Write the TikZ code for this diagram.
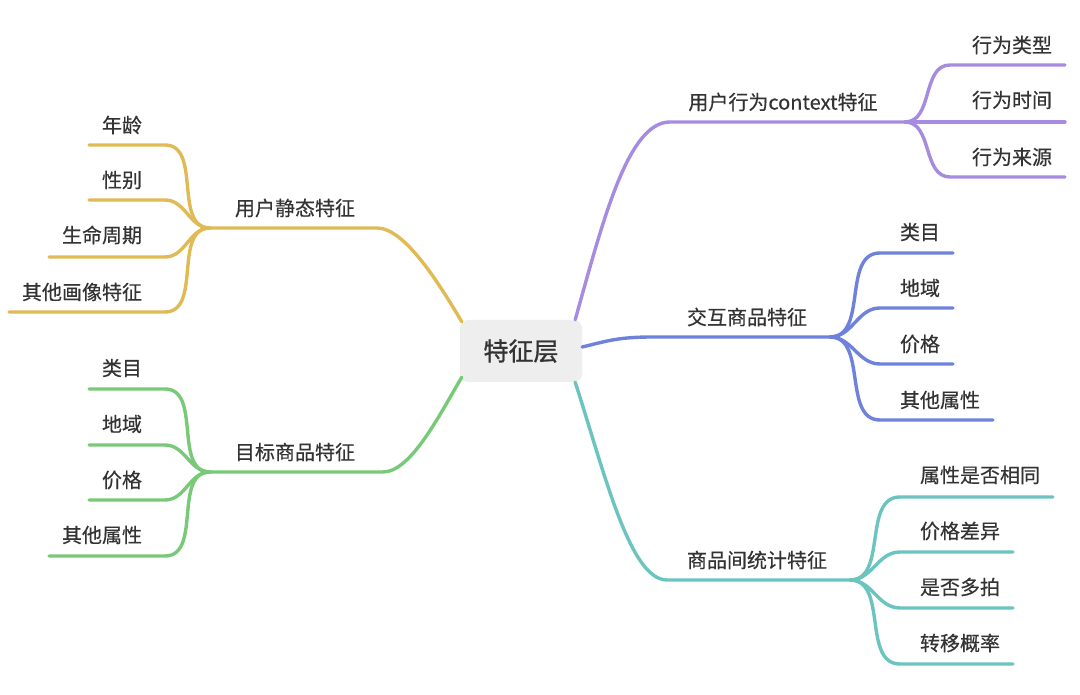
\documentclass[tikz,border=0pt]{standalone}
\usepackage{fontspec}
\setmainfont{Noto Sans CJK SC}[FakeBold=0.4]
\newfontfamily\hubfont{Noto Sans CJK SC}[FakeBold=1.2]
\usepackage{xcolor}
\usepackage{tikz}
\usetikzlibrary{positioning}
\definecolor{ink}{HTML}{333333}
\definecolor{hub}{HTML}{EEEEEE}
\definecolor{actc}{HTML}{A68BE0}
\definecolor{interc}{HTML}{6E82DC}
\definecolor{statc}{HTML}{6CC4C0}
\definecolor{userc}{HTML}{E0BB55}
\definecolor{itemc}{HTML}{78CA78}

\begin{document}
\begin{tikzpicture}[
  x=1pt, y=1pt,
  every node/.style={font=\fontsize{20}{24}\selectfont, text=ink, inner sep=0pt},
  root/.style={
    rectangle, rounded corners=8pt, fill=hub, minimum width=122pt,
    minimum height=62pt, font=\hubfont\fontsize{25}{30}\selectfont
  },
  branch/.style={line width=3.4pt, line cap=round},
]
\fill[white] (0,0) rectangle (1080,695);
\node[root] (root) at (521,344) {特征层};

% user behaviour context
\coordinate (actH) at (670,573);
\coordinate (actF) at (905,573);
\coordinate (actTypeA) at (950,630); \coordinate (actTypeB) at (1065,630);
\coordinate (actTimeB) at (1065,573);
\coordinate (actSrcA) at (950,518);  \coordinate (actSrcB) at (1065,518);
\node (act)     at (783,593)  {用户行为context特征};
\node (actType) at (1012,650) {行为类型};
\node (actTime) at (1012,595) {行为时间};
\node (actSrc)  at (1012,538) {行为来源};
\draw[branch, actc] ([xshift=-7pt]root.north east) .. controls +(28,100) and +(-42,0) .. (actH) -- (actF);
\draw[branch, actc] (actF) to[out=0,in=180] (actTypeA) -- (actTypeB);
\draw[branch, actc] (actF) -- (actTimeB);
\draw[branch, actc] (actF) to[out=0,in=180] (actSrcA) -- (actSrcB);

% interacted item
\coordinate (interH) at (653,358);
\coordinate (interF) at (830,358);
\coordinate (interCatA) at (880,442); \coordinate (interCatB) at (953,442);
\coordinate (interRegA) at (880,387); \coordinate (interRegB) at (953,387);
\coordinate (interPriA) at (880,331); \coordinate (interPriB) at (953,331);
\coordinate (interOthA) at (880,275); \coordinate (interOthB) at (993,275);
\node (inter)    at (747,378) {交互商品特征};
\node (interCat) at (920,463) {类目};
\node (interReg) at (920,407) {地域};
\node (interPri) at (920,351) {价格};
\node (interOth) at (940,295) {其他属性};
\draw[branch, interc] ([yshift=4pt]root.east) .. controls +(25,6) and +(-35,0) .. (interH) -- (interF);
\draw[branch, interc] (interF) to[out=0,in=180] (interCatA) -- (interCatB);
\draw[branch, interc] (interF) to[out=0,in=180] (interRegA) -- (interRegB);
\draw[branch, interc] (interF) to[out=0,in=180] (interPriA) -- (interPriB);
\draw[branch, interc] (interF) to[out=0,in=180] (interOthA) -- (interOthB);

% item pair statistics
\coordinate (statH) at (667,115);
\coordinate (statF) at (850,115);
\coordinate (statAttrA) at (900,198); \coordinate (statAttrB) at (1053,198);
\coordinate (statPriA) at (900,143);  \coordinate (statPriB) at (1013,143);
\coordinate (statMulA) at (900,87);   \coordinate (statMulB) at (1013,87);
\coordinate (statTrA) at (900,31);    \coordinate (statTrB) at (1013,31);
\node (stat)     at (757,135) {商品间统计特征};
\node (statAttr) at (980,220) {属性是否相同};
\node (statPri)  at (960,164) {价格差异};
\node (statMul)  at (960,108) {是否多拍};
\node (statTr)   at (960,52)  {转移概率};
\draw[branch, statc] ([xshift=-7pt]root.south east) .. controls +(30,-93) and +(-37,0) .. (statH) -- (statF);
\draw[branch, statc] (statF) to[out=0,in=180] (statAttrA) -- (statAttrB);
\draw[branch, statc] (statF) to[out=0,in=180] (statPriA) -- (statPriB);
\draw[branch, statc] (statF) to[out=0,in=180] (statMulA) -- (statMulB);
\draw[branch, statc] (statF) to[out=0,in=180] (statTrA) -- (statTrB);

% user static profile
\coordinate (userH) at (377,467);
\coordinate (userF) at (210,467);
\coordinate (userAgeA) at (165,550);  \coordinate (userAgeB) at (89,550);
\coordinate (userSexA) at (165,495);  \coordinate (userSexB) at (89,495);
\coordinate (userLifeA) at (165,438); \coordinate (userLifeB) at (49,438);
\coordinate (userPortA) at (165,383); \coordinate (userPortB) at (9,383);
\node (user)     at (295,487) {用户静态特征};
\node (userAge)  at (122,570) {年龄};
\node (userSex)  at (122,515) {性别};
\node (userLife) at (102,460) {生命周期};
\node (userPort) at (82,403)  {其他画像特征};
\draw[branch, userc] ([xshift=2pt,yshift=-2pt]root.north west) .. controls +(-22,37) and +(28,0) .. (userH) -- (userF);
\draw[branch, userc] (userF) to[out=180,in=0] (userAgeA) -- (userAgeB);
\draw[branch, userc] (userF) to[out=180,in=0] (userSexA) -- (userSexB);
\draw[branch, userc] (userF) to[out=180,in=0] (userLifeA) -- (userLifeB);
\draw[branch, userc] (userF) to[out=180,in=0] (userPortA) -- (userPortB);

% target item
\coordinate (itemH) at (383,223);
\coordinate (itemF) at (210,223);
\coordinate (itemCatA) at (165,306); \coordinate (itemCatB) at (89,306);
\coordinate (itemRegA) at (165,250); \coordinate (itemRegB) at (89,250);
\coordinate (itemPriA) at (165,195); \coordinate (itemPriB) at (89,195);
\coordinate (itemOthA) at (165,139); \coordinate (itemOthB) at (49,139);
\node (item)    at (295,243) {目标商品特征};
\node (itemCat) at (122,327) {类目};
\node (itemReg) at (122,271) {地域};
\node (itemPri) at (122,215) {价格};
\node (itemOth) at (102,160) {其他属性};
\draw[branch, itemc] ([xshift=2pt,yshift=5pt]root.south west) .. controls +(-22,-37) and +(28,0) .. (itemH) -- (itemF);
\draw[branch, itemc] (itemF) to[out=180,in=0] (itemCatA) -- (itemCatB);
\draw[branch, itemc] (itemF) to[out=180,in=0] (itemRegA) -- (itemRegB);
\draw[branch, itemc] (itemF) to[out=180,in=0] (itemPriA) -- (itemPriB);
\draw[branch, itemc] (itemF) to[out=180,in=0] (itemOthA) -- (itemOthB);
\end{tikzpicture}
\end{document}
